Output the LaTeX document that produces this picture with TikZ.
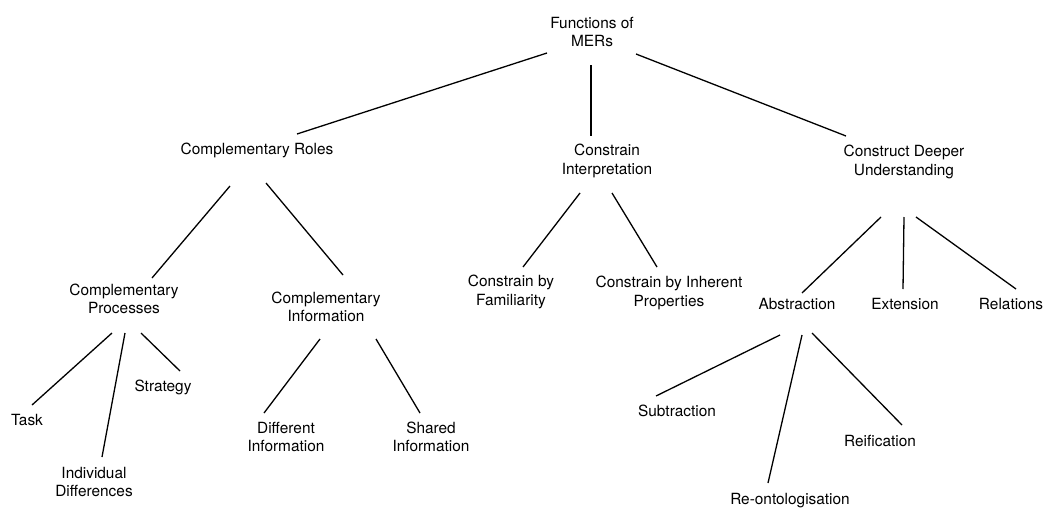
\documentclass[tikz,border=0pt]{standalone}
\usepackage{fontspec}
\setmainfont{TeX Gyre Heros}
\begin{document}
\begin{tikzpicture}[x=1pt,y=-1pt,
  lbl/.style={inner sep=0pt,align=center,text=black,font=\fontsize{15.4}{18.5}\selectfont},
  link/.style={line width=1.3pt,black}]
\useasboundingbox[fill=white] (0,0) rectangle (1046,509);
% nodes
\node[lbl] (root) at (592,32) {Functions of\\MERs};
\node[lbl] (cr) at (257,150) {Complementary Roles};
\node[lbl] (ci) at (607,161) {Constrain\\Interpretation};
\node[lbl] (cd) at (904,162) {Construct Deeper\\Understanding};
\node[lbl] (cp) at (124,299) {Complementary\\Processes};
\node[lbl] (cinf) at (326,307) {Complementary\\Information};
\node[lbl] (cf) at (511,292) {Constrain by\\Familiarity};
\node[lbl] (cip) at (669,293) {Constrain by Inherent\\Properties};
\node[lbl] (ab) at (797,304) {Abstraction};
\node[lbl] (ex) at (905,304) {Extension};
\node[lbl] (re) at (1011,304) {Relations};
\node[lbl] (task) at (27,420) {Task};
\node[lbl] (ind) at (94,482) {Individual\\Differences};
\node[lbl] (str) at (163,387) {Strategy};
\node[lbl] (dif) at (286,437) {Different\\Information};
\node[lbl] (sh) at (431,437) {Shared\\Information};
\node[lbl] (sub) at (677,411) {Subtraction};
\node[lbl] (rei) at (880,441) {Reification};
\node[lbl] (ront) at (790,501) {Re-ontologisation};
% connectors
\draw[link] ([shift={(-45,21)}]root.center) -- ([shift={(40,-16)}]cr.center);
\draw[link] ([shift={(-1,33)}]root.center) -- ([shift={(-16,-25)}]ci.center);
\draw[link] ([shift={(44,22)}]root.center) -- ([shift={(-58,-26)}]cd.center);
\draw[link] ([shift={(-27,36)}]cr.center) -- ([shift={(28,-21)}]cp.center);
\draw[link] ([shift={(9,33)}]cr.center) -- ([shift={(17,-32)}]cinf.center);
\draw[link] ([shift={(-27,32)}]ci.center) -- ([shift={(12,-25)}]cf.center);
\draw[link] ([shift={(5,32)}]ci.center) -- ([shift={(-12,-26)}]cip.center);
\draw[link] ([shift={(-23,55)}]cd.center) -- ([shift={(5,-11)}]ab.center);
\draw[link] ([shift={(0,55)}]cd.center) -- ([shift={(-2,-15)}]ex.center);
\draw[link] ([shift={(12,55)}]cd.center) -- ([shift={(5,-15)}]re.center);
\draw[link] ([shift={(-12,34)}]cp.center) -- ([shift={(5,-15)}]task.center);
\draw[link] ([shift={(1,34)}]cp.center) -- ([shift={(8,-25)}]ind.center);
\draw[link] ([shift={(17,34)}]cp.center) -- ([shift={(17,-16)}]str.center);
\draw[link] ([shift={(-6,32)}]cinf.center) -- ([shift={(-22,-24)}]dif.center);
\draw[link] ([shift={(50,32)}]cinf.center) -- ([shift={(-11,-24)}]sh.center);
\draw[link] ([shift={(-17,31)}]ab.center) -- ([shift={(-21,-15)}]sub.center);
\draw[link] ([shift={(5,31)}]ab.center) -- ([shift={(-22,-18)}]ront.center);
\draw[link] ([shift={(15,29)}]ab.center) -- ([shift={(22,-16)}]rei.center);
\end{tikzpicture}
\end{document}
